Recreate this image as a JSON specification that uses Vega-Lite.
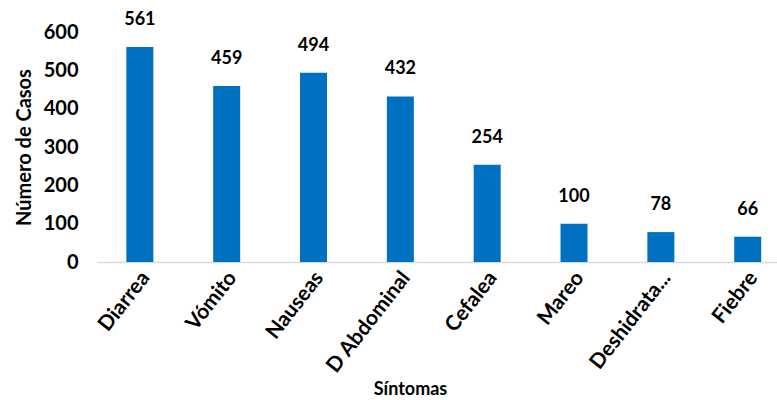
{
  "$schema": "https://vega.github.io/schema/vega-lite/v6.json",
  "autosize": "none",
  "width": 680,
  "height": 230,
  "padding": {"left": 97, "top": 32, "right": 0, "bottom": 138},
  "config": {"view": {"stroke": null}, "font": "Lato"},
  "data": {"values": [
    {"sintoma": "Diarrea", "casos": 561},
    {"sintoma": "Vómito", "casos": 459},
    {"sintoma": "Nauseas", "casos": 494},
    {"sintoma": "D Abdominal", "casos": 432},
    {"sintoma": "Cefalea", "casos": 254},
    {"sintoma": "Mareo", "casos": 100},
    {"sintoma": "Deshidrata...", "casos": 78},
    {"sintoma": "Fiebre", "casos": 66}
  ]},
  "encoding": {
    "x": {"field": "sintoma", "type": "nominal", "sort": null,
      "scale": {"paddingInner": 0.689, "paddingOuter": 0.26, "align": 0.65},
      "axis": {"title": "Síntomas", "labelAngle": -52, "labelFont": "Lato", "labelFontWeight": "bold", "labelFontSize": 21, "labelColor": "#000", "labelPadding": 12, "labelOffset": 6, "ticks": false, "domainColor": "#d9d9d9", "domainWidth": 1.5, "titleFont": "Lato", "titleFontSize": 18, "titleFontWeight": "bold", "titleColor": "#000", "titleX": 313, "titleY": 127, "titleBaseline": "middle"}},
    "y": {"field": "casos", "type": "quantitative",
      "scale": {"domain": [0, 600]},
      "axis": {"title": "Número de Casos", "values": [0, 100, 200, 300, 400, 500, 600], "grid": false, "domain": false, "ticks": false, "labelFont": "Lato", "labelFontWeight": "bold", "labelFontSize": 20, "labelColor": "#000", "labelPadding": 19, "titleFont": "Lato", "titleFontSize": 20, "titleFontWeight": "bold", "titleColor": "#000", "titleX": -73, "titleY": 115, "titleBaseline": "middle"}}
  },
  "layer": [
    {"mark": {"type": "bar", "color": "#0070C0"}},
    {"mark": {"type": "text", "baseline": "bottom", "dy": -18, "fontSize": 18, "fontWeight": "bold", "font": "Lato", "color": "#000"},
     "encoding": {"text": {"field": "casos", "type": "quantitative"}}}
  ]
}
